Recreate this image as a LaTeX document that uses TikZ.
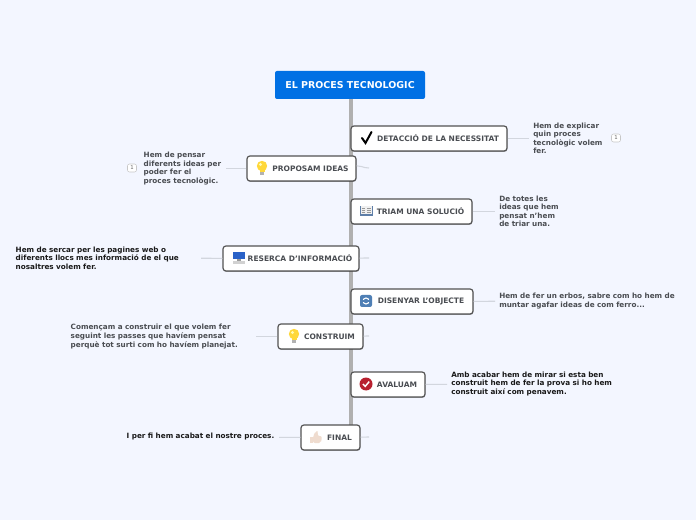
\documentclass[tikz,border=0pt]{standalone}
\usepackage{fontspec}
\setmainfont{DejaVu Sans}
\usetikzlibrary{positioning,shadows}
\definecolor{pagebg}{HTML}{F3F6FF}
\definecolor{rootblue}{HTML}{0070E4}
\definecolor{spinegray}{HTML}{B0B0B0}
\definecolor{stubgray}{HTML}{D2D6DE}
\definecolor{inkgray}{HTML}{4A4D52}
\definecolor{bulbyellow}{HTML}{FFD83A}
\definecolor{bookblue}{HTML}{5F7FA8}
\definecolor{screenblue}{HTML}{2A62C8}
\definecolor{refreshblue}{HTML}{4F7FB5}
\definecolor{checkred}{HTML}{B8202F}
\definecolor{thumbskin}{HTML}{EFDCCF}
\def\px{0.75pt}
\newcommand{\iconpad}{\hspace*{13.5pt}}

\tikzset{
  topic/.style={draw=black!68, line width=0.9pt, fill=white, rounded corners=2.2pt,
    minimum height=25*\px, inner xsep=4.5pt, inner ysep=0pt, text=inkgray,
    font=\bfseries\fontsize{5.63}{6.4}\selectfont,
    general shadow={shadow xshift=0.3pt, shadow yshift=-0.7pt, fill=black, opacity=.3}},
  note/.style={inner xsep=4*\px, inner ysep=0pt, align=left, text=inkgray,
    font=\bfseries\fontsize{5.43}{6.4}\selectfont},
  dark/.style={text=black!90},
  stub/.style={draw=stubgray, line width=0.8pt},
  countbadge/.style={draw=black!22, fill=white, rounded corners=1.5pt, inner sep=0pt,
    minimum width=9*\px, minimum height=8*\px, text=black!60, font=\fontsize{4}{4}\selectfont},
  bulb/.pic={
    \fill[black!30] (-2,3) rectangle (2,7);
    \fill[bulbyellow] (0,-2) circle (5.2*\px);
    \fill[bulbyellow] (-2.5,1) rectangle (2.5,4);
    \fill[yellow!30] (-1.5,-3.5) circle (1.6*\px);
  },
  tick/.pic={
    \draw[black, line width=1.5pt, line cap=round] (-5,0) -- (-1.5,5) -- (4.5,-6);
  },
  book/.pic={
    \fill[bookblue] (-6.5,-4.5) rectangle (6.5,5);
    \fill[black!6] (-5.5,-5) rectangle (-0.4,3.5);
    \fill[black!6] (0.4,-5) rectangle (5.5,3.5);
    \foreach \yy in {-3,-1,1}
      \draw[black!40, line width=0.4pt] (-4.5,\yy) -- (-1.2,\yy) (1.2,\yy) -- (4.5,\yy);
  },
  monitor/.pic={
    \fill[screenblue] (-6,-6) rectangle (6,1.5);
    \fill[black!40] (-2,1.5) rectangle (2,3);
    \fill[black!18] (-6,3) rectangle (6,6);
  },
  refresh/.pic={
    \fill[refreshblue, rounded corners=1.5pt] (-6,-6) rectangle (6,6);
    \draw[white, line width=0.8pt] (0,0) circle (3*\px);
    \fill[refreshblue] (-4,-0.8) rectangle (4,0.8);
  },
  redcheck/.pic={
    \fill[checkred] (0,0) circle (6.5*\px);
    \draw[white, line width=1.1pt] (-3,0) -- (-0.8,2.4) -- (3.2,-2.4);
  },
  thumb/.pic={
    \fill[thumbskin] (-6,0) rectangle (-3,6);
    \fill[thumbskin, rounded corners=1.5pt] (-3,-1) -- (0,-6) -- (2,-6) -- (1.5,-1) -- (6,-1) -- (5,6) -- (-3,6) -- cycle;
  }
}

\begin{document}
\begin{tikzpicture}[x=\px, y=-\px]
\path[use as bounding box, fill=pagebg] (0,0) rectangle (696,520);

\node[fill=rootblue, rounded corners=1.5pt, minimum width=150*\px, minimum height=28*\px, inner sep=0pt,
  text=white, font=\bfseries\fontsize{7.1}{8}\selectfont] (root) at (350,85) {EL PROCES TECNOLOGIC};
\coordinate (spineEnd) at (351,432);
\draw[spinegray, line width=2.3pt] (root.south -| spineEnd) -- (spineEnd);

% topics
\node[topic, minimum width=156*\px] (detect) at (429,138.5) {\iconpad DETACCIÓ DE LA NECESSITAT};
\node[topic, minimum width=109*\px] (propose) at (301.5,168.5) {\iconpad PROPOSAM IDEAS};
\node[topic, minimum width=121*\px] (choose) at (411.5,211.5) {\iconpad TRIAM UNA SOLUCIÓ};
\node[topic, minimum width=136*\px] (search) at (291,258.5) {\iconpad RESERCA D'INFORMACIÓ};
\node[topic, minimum width=122*\px] (design) at (412,301.5) {\iconpad DISENYAR L'OBJECTE};
\node[topic, minimum width=85*\px] (build) at (320.5,336.5) {\iconpad CONSTRUIM};
\node[topic, minimum width=74*\px] (assess) at (388,384.5) {\iconpad AVALUAM};
\node[topic, minimum width=59*\px] (final) at (330.5,437.5) {\iconpad FINAL};

% icons
\pic at (367,138) {tick};
\pic at (262,168) {bulb};
\pic at (366,211) {book};
\pic at (238.5,258) {monitor};
\pic at (366,301) {refresh};
\pic at (294,336) {bulb};
\pic at (366,384) {redcheck};
\pic at (316,437) {thumb};

% notes
\node[note, anchor=west, text width=76*\px] (detectNote) at (529,138.5) {Hem de explicar\\quin proces\\tecnològic volem\\fer.};
\node[note, anchor=east, text width=78*\px] (proposeNote) at (226,168.5) {Hem de pensar\\diferents ideas per\\poder fer el\\proces tecnològic.};
\node[note, anchor=west, text width=70*\px] (chooseNote) at (495,211.5) {De totes les\\ideas que hem\\pensat n'hem\\de triar una.};
\node[note, dark, anchor=east, text width=181*\px] (searchNote) at (201,258) {Hem de sercar per les pagines web o\\diferents llocs mes informació de el que\\nosaltres volem fer.};
\node[note, anchor=west, text width=180*\px] (designNote) at (495,301) {Hem de fer un erbos, sabre com ho hem de\\muntar agafar ideas de com ferro...};
\node[note, anchor=east, text width=181*\px] (buildNote) at (256,336.5) {Començam a construir el que volem fer\\seguint les passes que havíem pensat\\perquè tot surti com ho havíem planejat.};
\node[note, dark, anchor=west, text width=170*\px] (assessNote) at (447,384) {Amb acabar hem de mirar si esta ben\\construit hem de fer la prova si ho hem\\construit així com penavem.};
\node[note, dark, anchor=east, text width=148*\px] (finalNote) at (279,437) {I per fi hem acabat el nostre proces.};

\node[countbadge] (detectCount) at (616,138) {1};
\node[countbadge] (proposeCount) at (132,168) {1};

% connectors
\draw[stub] (detect) -- (detectNote);
\draw[stub] (propose) -- (proposeNote);
\draw[stub] (choose) -- (chooseNote);
\draw[stub] (search) -- (searchNote);
\draw[stub] (design) -- (designNote);
\draw[stub] (build) -- (buildNote);
\draw[stub] (assess) -- (assessNote);
\draw[stub] (final) -- (finalNote);

\coordinate (proposeStub) at (369,168);
\coordinate (searchStub) at (369,258);
\coordinate (buildStub) at (369,336);
\coordinate (finalStub) at (369,437);
\draw[stub] ([yshift=2pt]propose.east) .. controls (361,165) and (362,168) .. (proposeStub);
\draw[stub] (search) -- (searchStub);
\draw[stub] (build) -- (buildStub);
\draw[stub] (final) -- (finalStub);
\end{tikzpicture}
\end{document}
